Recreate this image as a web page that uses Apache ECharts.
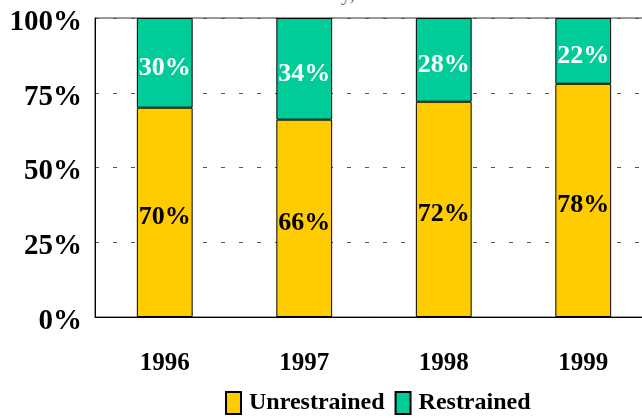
<!DOCTYPE html>
<html>
<head>
<meta charset="utf-8">
<script src="https://cdn.jsdelivr.net/npm/echarts@6/dist/echarts.min.js"></script>
<style>
html,body{margin:0;padding:0;background:#fff;}
#chart{width:642px;height:418px;}
</style>
</head>
<body>
<div id="chart"></div>
<script>
var categories = ['1996', '1997', '1998', '1999'];
var unrestrained = [70, 66, 72, 78];
var restrained = [30, 34, 28, 22];
var yTicks = [0, 25, 50, 75, 100];
var titleText = 'Fatality, 1996-1999';

var FONT = '"Liberation Serif", "Times New Roman", serif';
var chart = echarts.init(document.getElementById('chart'), null, {renderer: 'canvas'});
chart.setOption({
  animation: false,
  backgroundColor: '#ffffff',
  title: {
    text: titleText,
    left: 285,
    top: -20,
    textStyle: {fontFamily: FONT, fontSize: 20, fontWeight: 'normal', color: '#666'}
  },
  grid: {
    left: 95, top: 18, width: 558, height: 299,
    outerBoundsMode: 'none',
    containLabel: false,
    show: true, borderColor: '#333', borderWidth: 1, backgroundColor: 'transparent'
  },
  legend: {
    left: 220, top: 386,
    itemWidth: 15, itemHeight: 22, itemGap: 10,
    icon: 'rect',
    textStyle: {fontFamily: FONT, fontSize: 24, fontWeight: 'bold', color: '#000', padding: [0, 0, 0, 3]},
    data: ['Unrestrained', 'Restrained']
  },
  xAxis: {
    type: 'category',
    data: categories,
    axisLine: {show: true, lineStyle: {color: '#000', width: 1}},
    axisTick: {show: false},
    axisLabel: {fontFamily: FONT, fontSize: 25, fontWeight: 'bold', color: '#000', margin: 34}
  },
  yAxis: {
    type: 'value',
    min: 0, max: 100, interval: 25,
    axisLine: {show: true, lineStyle: {color: '#000', width: 1}},
    axisTick: {show: false},
    axisLabel: {
      color: '#000', margin: 13,
      formatter: function (v) { return yTicks.indexOf(v) >= 0 ? '{p|' + v + '%}' : ''; },
      rich: {
        p: {fontFamily: FONT, fontSize: 29, fontWeight: 'bold', color: '#000', padding: [9, 0, 0, 0]}
      }
    },
    splitLine: {show: true, lineStyle: {color: '#555', width: 1, type: [4, 14]}}
  },
  series: [
    {
      name: 'Unrestrained', type: 'bar', stack: 'total', data: unrestrained,
      barWidth: '40%',
      itemStyle: {color: '#FFCC00', borderColor: '#000', borderWidth: 1},
      label: {show: true, position: 'inside', offset: [0, 5], formatter: '{c}%', fontFamily: FONT, fontSize: 26, fontWeight: 'bold', color: '#000'}
    },
    {
      name: 'Restrained', type: 'bar', stack: 'total', data: restrained,
      barWidth: '40%',
      itemStyle: {color: '#00CC99', borderColor: '#000', borderWidth: 1},
      label: {show: true, position: 'inside', offset: [0, 5], formatter: '{c}%', fontFamily: FONT, fontSize: 26, fontWeight: 'bold', color: '#fff'}
    }
  ]
});
</script>
</body>
</html>
